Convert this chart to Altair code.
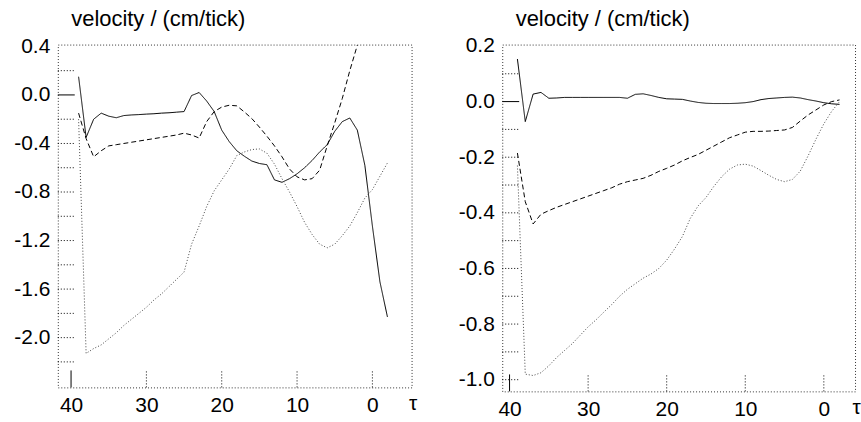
import altair as alt
import pandas as pd

# ---------------- data ----------------
tau = list(range(39, -3, -1))  # 39 .. -2

left_solid = [0.15, -0.35, -0.20, -0.15, -0.175, -0.188, -0.17, -0.165, -0.162, -0.158,
              -0.155, -0.15, -0.147, -0.142, -0.137, -0.005, 0.02, -0.05, -0.137, -0.29,
              -0.385, -0.46, -0.505, -0.545, -0.565, -0.575, -0.70, -0.72, -0.69, -0.65,
              -0.60, -0.54, -0.47, -0.41, -0.30, -0.22, -0.19, -0.29, -0.58, -1.08,
              -1.54, -1.83]
left_dashed = [-0.15, -0.36, -0.51, -0.46, -0.42, -0.41, -0.40, -0.39, -0.38, -0.37,
               -0.36, -0.35, -0.34, -0.33, -0.315, -0.33, -0.355, -0.22, -0.137, -0.10,
               -0.085, -0.09, -0.14, -0.195, -0.265, -0.34, -0.42, -0.51, -0.61, -0.675,
               -0.70, -0.69, -0.62, -0.42, -0.23, -0.03, 0.20, 0.41]
left_dotted = [-0.20, -2.13, -2.09, -2.06, -2.01, -1.96, -1.90, -1.85, -1.80, -1.75,
               -1.69, -1.64, -1.58, -1.52, -1.46, -1.23, -1.08, -0.92, -0.79, -0.70,
               -0.61, -0.50, -0.47, -0.45, -0.445, -0.48, -0.57, -0.69, -0.80, -0.92,
               -1.05, -1.15, -1.23, -1.26, -1.23, -1.16, -1.08, -0.97, -0.85, -0.78,
               -0.67, -0.56]

right_solid = [0.153, -0.072, 0.027, 0.033, 0.012, 0.013, 0.015, 0.015, 0.015, 0.015,
               0.015, 0.015, 0.015, 0.015, 0.012, 0.026, 0.028, 0.022, 0.015, 0.010,
               0.009, 0.008, 0.002, -0.003, -0.006, -0.007, -0.007, -0.007, -0.006, -0.004,
               0.0, 0.007, 0.011, 0.013, 0.015, 0.016, 0.013, 0.007, 0.002, -0.004,
               -0.008, -0.010]
right_dashed = [-0.185, -0.36, -0.44, -0.405, -0.392, -0.38, -0.37, -0.36, -0.35, -0.34,
                -0.33, -0.32, -0.31, -0.297, -0.288, -0.282, -0.276, -0.265, -0.251, -0.24,
                -0.228, -0.213, -0.201, -0.19, -0.175, -0.16, -0.145, -0.13, -0.12, -0.11,
                -0.107, -0.107, -0.106, -0.104, -0.102, -0.093, -0.07, -0.048, -0.03, -0.012,
                0.0, 0.006]
right_dotted = [-0.23, -0.98, -0.985, -0.975, -0.95, -0.92, -0.895, -0.87, -0.84, -0.81,
                -0.785, -0.757, -0.73, -0.70, -0.675, -0.655, -0.635, -0.62, -0.60, -0.57,
                -0.53, -0.485, -0.42, -0.375, -0.345, -0.305, -0.27, -0.243, -0.228, -0.225,
                -0.232, -0.248, -0.265, -0.28, -0.288, -0.28, -0.25, -0.195, -0.135, -0.08,
                -0.035, 0.0]

x_tick_values = [40, 30, 20, 10, 0]
left_y_labels = [0.4, 0.0, -0.4, -0.8, -1.2, -1.6, -2.0]
left_y_ticks = [0.2, -0.2, -0.4, -0.6, -0.8, -1.0, -1.2, -1.4, -1.6, -1.8, -2.0, -2.2]
right_y_labels = [0.2, 0.0, -0.2, -0.4, -0.6, -0.8, -1.0]
right_y_ticks = [0.1, -0.1, -0.2, -0.3, -0.4, -0.5, -0.6, -0.7, -0.8, -0.9, -1.0]

y_title = "velocity / (cm/tick)"
x_title = "τ"
series_names = ["solid", "dashed", "dotted"]

FONT = "Liberation Sans"
FS = 21


def long_frame(solid, dashed, dotted):
    rows = []
    for name, vals in zip(series_names, [solid, dashed, dotted]):
        for t, v in zip(tau, vals):
            rows.append({"tau": t, "v": v, "series": name})
    return pd.DataFrame(rows)


def panel(solid, dashed, dotted, xdom, ydom, ylabels, yticks, width, height):
    xs = alt.Scale(domain=xdom, reverse=True, nice=False, zero=False)
    ys = alt.Scale(domain=ydom, nice=False, zero=False)
    xaxis = alt.Axis(
        values=x_tick_values, ticks=False, domain=False, grid=False,
        labelFontSize=FS, labelFont=FONT, labelPadding=7, labelFlush=False,
        labelColor="black",
        title=x_title, titleFont=FONT, titleFontSize=FS, titleFontWeight="normal",
        titleX=width - 3, titleY=16, titleAlign="left", titleBaseline="middle",
        titleColor="black")
    yaxis = alt.Axis(
        values=ylabels, ticks=False, domain=False, grid=False,
        labelFontSize=FS, labelFont=FONT, labelPadding=8, labelFlush=False,
        labelOverlap=False, labelColor="black",
        labelExpr="replace(format(datum.value, '.1f'), '\u2212', '-')",
        title=y_title, titleFont=FONT, titleFontSize=22, titleFontWeight="normal",
        titleAngle=0, titleX=13, titleY=-26, titleAlign="left",
        titleBaseline="middle", titleColor="black")
    df = long_frame(solid, dashed, dotted)

    lines = alt.Chart(df).mark_line(strokeWidth=1, clip=True).encode(
        x=alt.X("tau:Q", scale=xs, axis=xaxis, title=x_title),
        y=alt.Y("v:Q", scale=ys, axis=yaxis, title=y_title),
        detail="series:N",
        strokeDash=alt.StrokeDash("series:N", scale=alt.Scale(
            domain=series_names, range=[[1, 0], [5, 3], [1, 2]]), legend=None),
        color=alt.Color("series:N", scale=alt.Scale(
            domain=series_names, range=["black", "black", "#444444"]), legend=None),
    )

    ytick_df = pd.DataFrame({"v": yticks})
    ytick = alt.Chart(ytick_df).mark_rule(strokeDash=[1, 2], color="black", strokeWidth=1).encode(
        y=alt.Y("v:Q", scale=ys, axis=yaxis, title=y_title), x=alt.value(0), x2=alt.value(17))

    xtick_df = pd.DataFrame({"tau": x_tick_values[1:]})
    xtick = alt.Chart(xtick_df).mark_rule(strokeDash=[1, 2], color="black", strokeWidth=1).encode(
        x=alt.X("tau:Q", scale=xs, axis=xaxis, title=x_title),
        y=alt.value(height), y2=alt.value(height - 17))

    zero_df = pd.DataFrame({"v": [0.0]})
    ztick = alt.Chart(zero_df).mark_rule(color="black", strokeWidth=1).encode(
        y=alt.Y("v:Q", scale=ys, axis=yaxis, title=y_title), x=alt.value(0), x2=alt.value(17))

    first_df = pd.DataFrame({"tau": [x_tick_values[0]]})
    ftick = alt.Chart(first_df).mark_rule(color="black", strokeWidth=1).encode(
        x=alt.X("tau:Q", scale=xs, axis=xaxis, title=x_title),
        y=alt.value(height), y2=alt.value(height - 17))

    return alt.layer(lines, ytick, xtick, ztick, ftick).properties(width=width, height=height)


left = panel(left_solid, left_dashed, left_dotted,
             [-5.2, 41.76], [-2.41, 0.415], left_y_labels, left_y_ticks, 355, 344)
right = panel(right_solid, right_dashed, right_dotted,
              [-3.97, 40.93], [-1.042, 0.205], right_y_labels, right_y_ticks, 354, 348)

chart = alt.hconcat(left, right, spacing=40).properties(
    padding={"left": 13, "top": 6, "right": 0, "bottom": 0},
    background="white",
).configure_view(
    stroke="#333333", strokeDash=[1, 2], strokeWidth=1
)

chart.save("out.html", embed_options={"renderer": "svg", "actions": False})
